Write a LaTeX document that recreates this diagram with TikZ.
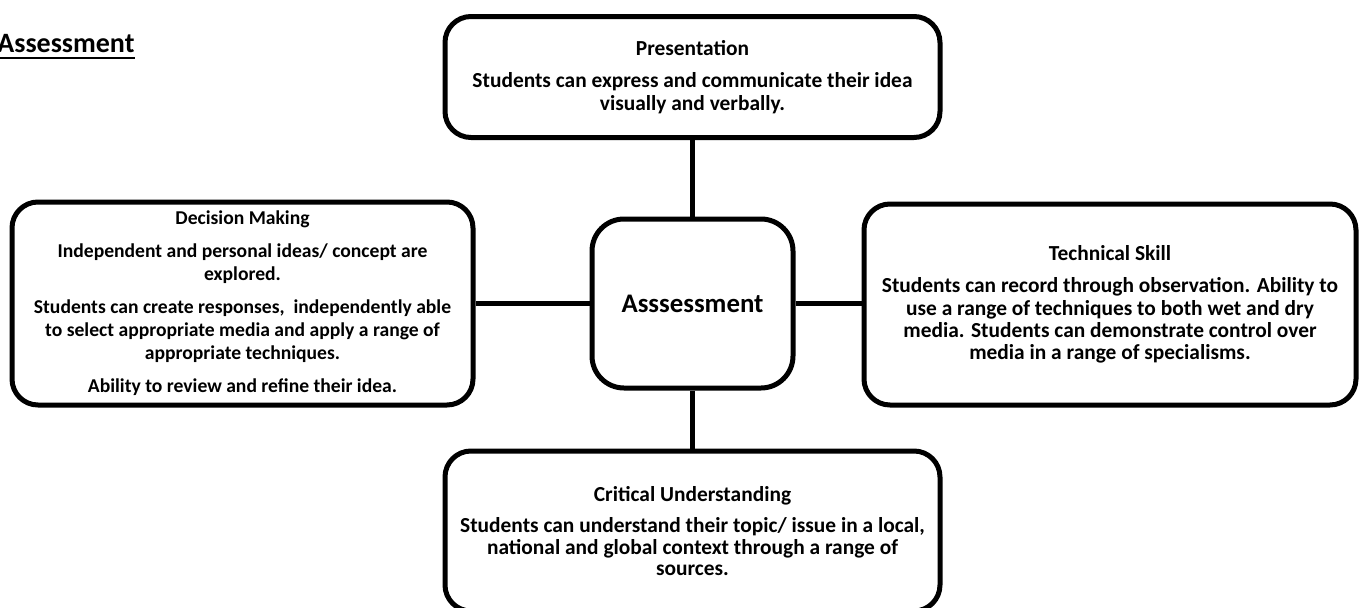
\documentclass[tikz,border=0pt]{standalone}
\usepackage{fontspec}
\setmainfont{Carlito}

\tikzset{
  box/.style={draw, line width=2.5pt, rounded corners=13pt, fill=white,
    align=center, inner sep=0pt,
    font=\bfseries\fontsize{10.7}{11.2}\selectfont},
  link/.style={line width=2.5pt},
}

\begin{document}
\begin{tikzpicture}[x=0.5pt, y=0.5pt]
    % frame of the page
    \useasboundingbox (0,0) rectangle (1361,607);
    \clip (0,0) rectangle (1361,607);
    % heading
    \node[anchor=base west, inner sep=0pt, font=\bfseries\fontsize{14}{16}\selectfont]
    (title) at (-3,554) {Assessment};
    \draw [line width=1.2pt]
    ([yshift=-2.5pt]title.base west) -- ([yshift=-2.5pt]title.base east);
    % boxes
    \node[box, minimum width=247.5pt, minimum height=60.5pt] (pres) at (692.5,530)
    {Presentation\\[5pt]
     Students can express and communicate their idea\\
     visually and verbally.};
    \node[box, minimum width=230.5pt, minimum height=101.5pt,
    font=\bfseries\fontsize{9.8}{11.5}\selectfont] (dec) at (242.5,303.5)
    {Decision Making\\[5pt]
     Independent and personal ideas/ concept are\\
     explored.\\[5pt]
     Students can create responses,~ independently able\\
     to select appropriate media and apply a range of\\
     appropriate techniques.\\[5pt]
     Ability to review and refine their idea.};
    \node[box, rounded corners=16pt, minimum width=100.5pt, minimum height=84.5pt,
    font=\bfseries\fontsize{13.4}{15}\selectfont] (asmt) at (692.5,303.5)
    {Asssessment};
    \node[box, minimum width=246pt, minimum height=100.5pt] (tech) at (1110,302.5)
    {Technical Skill\\[5pt]
     Students can record through observation. Ability to\\
     use a range of techniques to both wet and dry\\
     media. Students can demonstrate control over\\
     media in a range of specialisms.};
    \node[box, minimum width=247.5pt, minimum height=80pt,
    font=\bfseries\fontsize{10.7}{10.8}\selectfont] (crit) at (692.5,76)
    {Critical Understanding\\[5pt]
     Students can understand their topic/ issue in a local,\\
     national and global context through a range of\\
     sources.};
    % connectors
    \draw [link] (pres) -- (asmt);
    \draw [link] (asmt) -- (crit);
    \draw [link] (asmt.west) -- (dec.east |- asmt.west);
    \draw [link] (asmt.east) -- (tech.west |- asmt.east);
\end{tikzpicture}
\end{document}
